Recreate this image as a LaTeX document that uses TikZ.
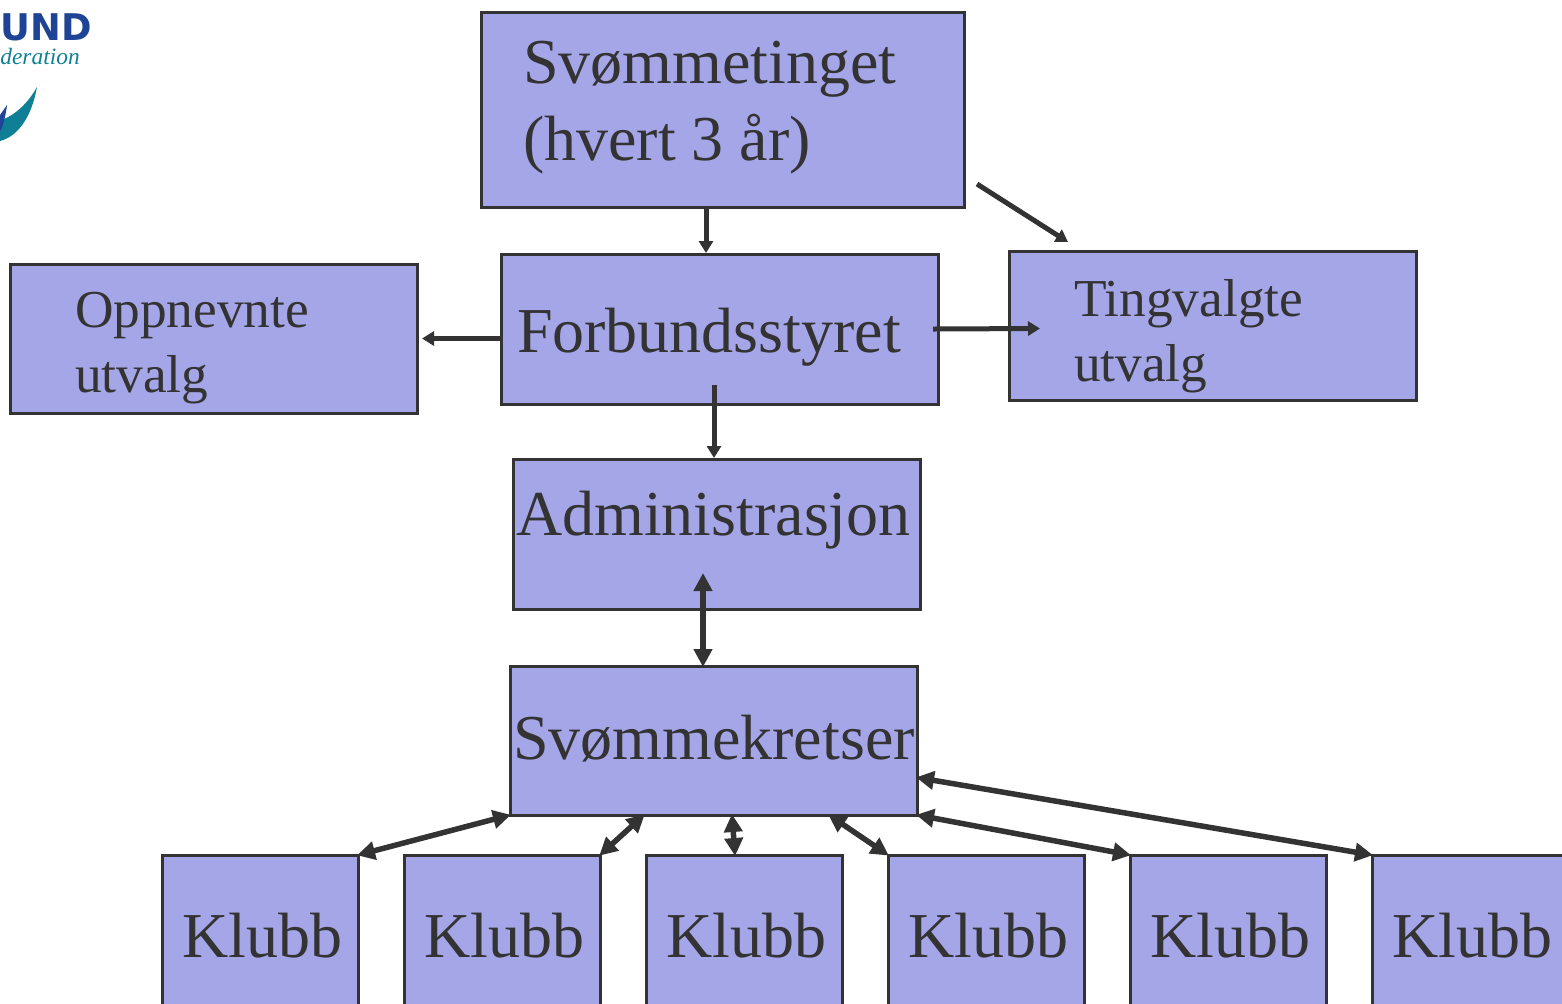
\documentclass[tikz,border=0pt]{standalone}
\usepackage{fontspec}
\setmainfont{Liberation Serif}
\newfontfamily\logofont{DejaVu Sans}
\usetikzlibrary{arrows.meta}
\hyphenpenalty=10000
\definecolor{boksfarge}{HTML}{A5A6E8}
\definecolor{linjefarge}{HTML}{333333}
\definecolor{logoblaa}{HTML}{1F4496}
\definecolor{logoteal}{HTML}{0F7F96}
\tikzset{
  boks/.style={rectangle,draw=linjefarge,fill=boksfarge,line width=1.5pt,
    text=linjefarge,align=left,inner ysep=0pt,outer sep=0pt,
    font=\fontsize{32}{38.5}\selectfont},
  utvalg/.style={boks,minimum width=203.5pt,minimum height=74.5pt,text width=138.5pt,inner xsep=32.5pt,
    font=\fontsize{26.67}{32.5}\selectfont},
  klubb/.style={boks,minimum width=98pt,minimum height=80pt,text width=77.5pt,inner xsep=10.25pt,
    text height=22pt,text depth=0pt},
  pil/.style={draw=linjefarge,line width=2.5pt,-{Triangle[length=6pt,width=7pt]}},
  dobbelpil/.style={draw=linjefarge,line width=2.75pt,shorten >=-.5pt,shorten <=-.5pt,
    {Triangle[length=9pt,width=9pt]}-{Triangle[length=9pt,width=9pt]}}
}
\begin{document}
\begin{tikzpicture}[x=0.5pt,y=-0.5pt]
    \clip (0,0) rectangle (1562,1003);

    % Logo
    \node[anchor=base west,inner sep=0pt,text depth=0pt,text=logoblaa,font=\logofont\bfseries\fontsize{18.4}{18}\selectfont] (logoa) at (0,40) {UND};
    \node[anchor=base west,inner sep=0pt,text height=8pt,text=logoteal,font=\itshape\fontsize{11.7}{12}\selectfont] (logob) at (0,64) {deration};
    \fill[logoteal] (37,87) .. controls (28,103) and (16,114) .. (4,119) -- (0,132) -- (0,141) .. controls (16,137) and (31,120) .. (37,87) -- cycle;
    \fill[logoblaa] (7,105) .. controls (6,113) and (4,124) .. (0,132) -- (0,115) -- cycle;

    % Top level
    \node[boks,minimum width=241.5pt,minimum height=97.5pt,text width=199.5pt,inner xsep=21pt,
      text height=0pt,text depth=26pt] (ting) at (722.5,109.5) {Svømmetinget\\\spaceskip=8pt (hvert 3 år)};
    \node[boks,minimum width=218.5pt,minimum height=75pt,text width=202.5pt,inner xsep=8pt,
      text height=23.5pt,text depth=0pt] (styret) at (719.5,329) {Forbundsstyret};
    \node[utvalg,text height=0pt,text depth=11pt] (oppnevnte) at (213.5,338.5) {Oppnevnte\\utvalg};
    \node[utvalg,text height=0pt,text depth=9pt] (tingvalgte) at (1212.5,325.5) {Tingvalgte\\utvalg};

    % Administration and regions
    \node[boks,minimum width=203.5pt,minimum height=75pt,text width=200.5pt,inner xsep=1.5pt,
      text height=1.5pt,text depth=0pt] (admin) at (716.5,534) {Administrasjon};
    \node[boks,minimum width=203.5pt,minimum height=74.5pt,text width=200.5pt,inner xsep=1.5pt,
      text height=19pt,text depth=0pt] (kretser) at (713.5,740.5) {Svømmekretser};

    % Clubs
    \node[klubb] (k1) at (260,935) {Klubb};
    \node[klubb] (k2) at (502,935) {Klubb};
    \node[klubb] (k3) at (744,935) {Klubb};
    \node[klubb] (k4) at (986,935) {Klubb};
    \node[klubb] (k5) at (1228,935) {Klubb};
    \node[klubb] (k6) at (1470,935) {Klubb};

    % One way arrows
    \draw[pil] ([xshift=-8.25pt]ting.south) -- ([xshift=-6.75pt,yshift=.5pt]styret.north);
    \draw[pil] ([xshift=6.5pt,yshift=11.5pt]ting.south east) -- ([xshift=-72.25pt,yshift=4.5pt]tingvalgte.north);
    \draw[pil] ([yshift=-4.75pt]styret.west) -- ([xshift=2.5pt]oppnevnte.east);
    \draw[pil] ([xshift=-2.5pt]styret.east) -- ([xshift=15.5pt,yshift=-1.5pt]tingvalgte.west);
    \draw[pil] ([xshift=-2.75pt,yshift=9.5pt]styret.south) -- ([xshift=-1.25pt,yshift=.5pt]admin.north);

    % Two way arrows
    \draw[dobbelpil] ([xshift=-6.75pt,yshift=17.5pt]admin.south) -- ([xshift=-5.25pt]kretser.north);
    \draw[dobbelpil] (kretser.south west) -- (k1.north east);
    \draw[dobbelpil] ([xshift=-34.75pt]kretser.south) -- (k2.north east);
    \draw[dobbelpil] ([xshift=9.25pt]kretser.south) -- ([xshift=-4.5pt]k3.north);
    \draw[dobbelpil] ([xshift=57.75pt]kretser.south) -- (k4.north west);
    \draw[dobbelpil] (kretser.south east) -- (k5.north west);
    \draw[dobbelpil] ([yshift=-18.5pt]kretser.east) -- (k6.north west);
\end{tikzpicture}
\end{document}
